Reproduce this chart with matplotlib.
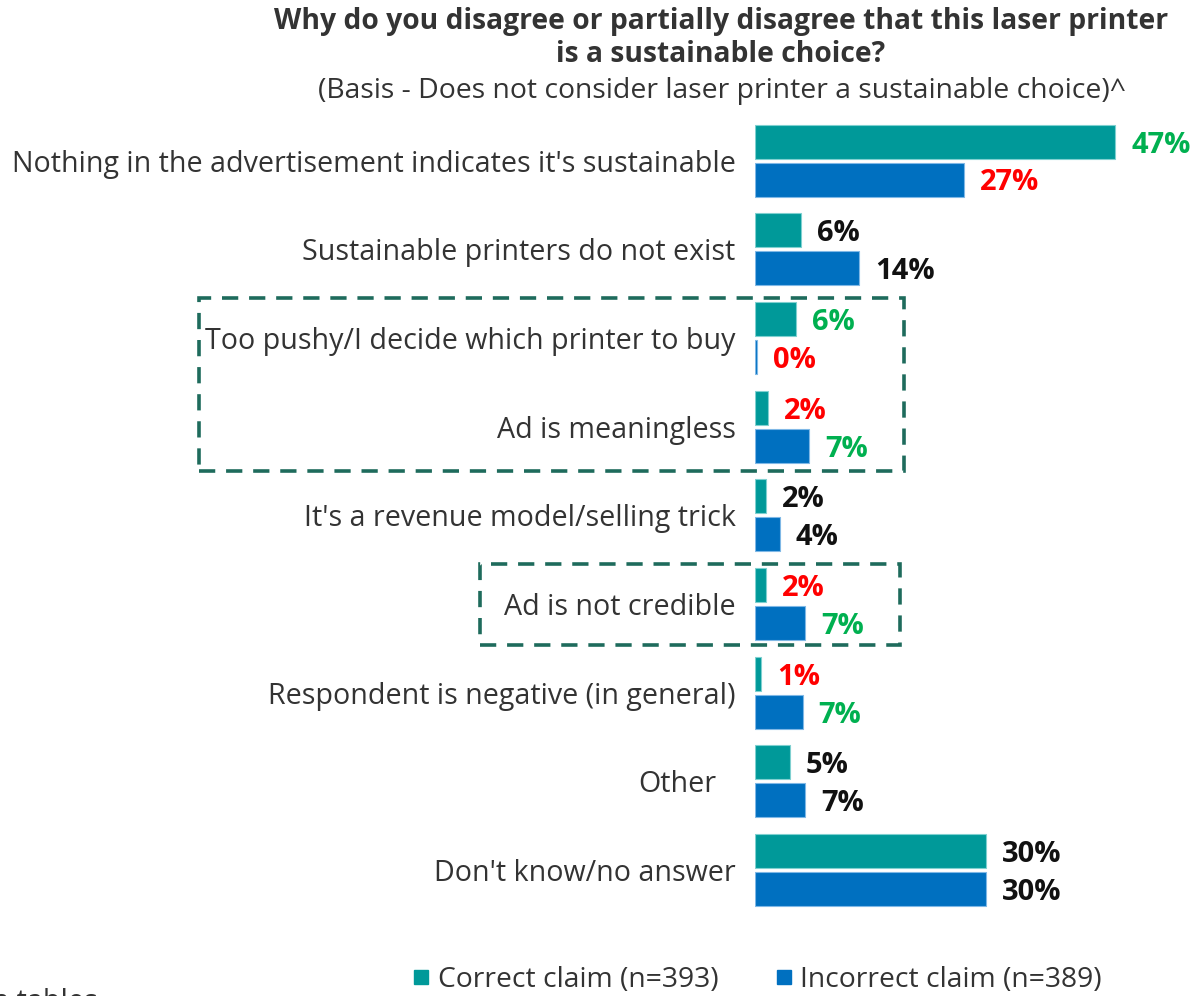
import matplotlib
matplotlib.use("Agg")
import matplotlib.pyplot as plt
from matplotlib.patches import Rectangle
from matplotlib.lines import Line2D

# ---- data ----
categories = [
    "Nothing in the advertisement indicates it's sustainable",
    "Sustainable printers do not exist",
    "Too pushy/I decide which printer to buy",
    "Ad is meaningless",
    "It's a revenue model/selling trick",
    "Ad is not credible",
    "Respondent is negative (in general)",
    "Other",
    "Don't know/no answer",
]
correct_vals = [46.8, 6.0, 5.3, 1.7, 1.4, 1.4, 0.8, 4.5, 30.0]
incorrect_vals = [27.1, 13.5, 0.2, 7.0, 3.2, 6.5, 6.2, 6.5, 30.0]
correct_labels = ["47%", "6%", "6%", "2%", "2%", "2%", "1%", "5%", "30%"]
incorrect_labels = ["27%", "14%", "0%", "7%", "4%", "7%", "7%", "7%", "30%"]
correct_label_colors = ["green", "black", "green", "red", "black", "red", "red", "black", "black"]
incorrect_label_colors = ["red", "black", "red", "green", "black", "green", "green", "black", "black"]
series_names = ["Correct claim (n=393)", "Incorrect claim (n=389)"]

title_lines = ["Why do you disagree or partially disagree that this laser printer",
               "is a sustainable choice?"]
subtitle = "(Basis - Does not consider laser printer a sustainable choice)^"

# ---- style ----
W, H = 1197, 996
FONT = "Open Sans"
TEAL = "#009999"
BLUE = "#0070C0"
TXT = "#333333"
CMAP = {"green": "#00B050", "red": "#FF0000", "black": "#111111"}
BOX = "#1E6B5C"

plt.rcParams['font.family'] = [FONT, 'DejaVu Sans']
fig = plt.figure(figsize=(W / 100, H / 100), dpi=100)

def fx(px):
    return px / W

def fy(py):
    return 1 - py / H

ax_left, ax_right, ax_top, ax_bot = 755, 1197, 116.2, 914.4
ax = fig.add_axes([fx(ax_left), fy(ax_bot), fx(ax_right - ax_left), (ax_bot - ax_top) / H])
px_per_pct = 7.7
ax.set_xlim(0, (ax_right - ax_left) / px_per_pct)
ax.set_ylim(len(categories) - 0.5, -0.5)
ax.axis("off")

bh = 0.383
off = 0.214
ys = list(range(len(categories)))
ax.barh([y - off for y in ys], correct_vals, height=bh, color=TEAL,
        edgecolor="#7fd0d0", linewidth=0.8)
ax.barh([y + off for y in ys], incorrect_vals, height=bh, color=BLUE,
        edgecolor="#7fb8e6", linewidth=0.8)

LBL_FS = 21
DY = -2.5  # small downward shift of texts (points)
for y, v, lab, c in zip(ys, correct_vals, correct_labels, correct_label_colors):
    ax.annotate(lab, (v, y - off), xytext=(11.5, DY), textcoords="offset points",
                ha="left", va="center", fontsize=LBL_FS, fontweight="bold", color=CMAP[c])
for y, v, lab, c in zip(ys, incorrect_vals, incorrect_labels, incorrect_label_colors):
    ax.annotate(lab, (v, y + off), xytext=(11.5, DY), textcoords="offset points",
                ha="left", va="center", fontsize=LBL_FS, fontweight="bold", color=CMAP[c])

CAT_FS = 20.6
for y, cat in zip(ys, categories):
    pad = -14 if cat != "Other" else -28
    ax.annotate(cat, (0, y), xytext=(pad, DY), textcoords="offset points",
                ha="right", va="center", fontsize=CAT_FS, color=TXT)

# titles
fig.text(fx(721), fy(22), title_lines[0], ha="center", va="center",
         fontsize=20.3, fontweight="bold", color=TXT)
fig.text(fx(721), fy(55), title_lines[1], ha="center", va="center",
         fontsize=20.3, fontweight="bold", color=TXT)
fig.text(fx(722), fy(91), subtitle, ha="center", va="center",
         fontsize=20.4, color=TXT)

# dashed highlight boxes
def dbox(x0, y0, x1, y1):
    r = Rectangle((fx(x0), fy(y1)), fx(x1 - x0), (y1 - y0) / H, transform=fig.transFigure,
                  fill=False, edgecolor=BOX, linewidth=2.6, linestyle=(0, (4.5, 3)))
    fig.add_artist(r)

dbox(199, 298, 904, 471)
dbox(480, 564, 900, 645)

# legend
handles = [Line2D([], [], marker="s", linestyle="none", markersize=10, color=TEAL),
           Line2D([], [], marker="s", linestyle="none", markersize=10, color=BLUE)]
fig.legend(handles, series_names, loc="center", bbox_to_anchor=(fx(756), fy(980)),
           ncol=2, frameon=False, fontsize=20.3, labelcolor=TXT, handletextpad=0.2,
           columnspacing=1.9, handlelength=0.8)

fig.text(fx(98), fy(1002), "Source: data tables", ha="right", va="center",
         fontsize=20.6, color=TXT)

fig.savefig("out.png", dpi=100)
